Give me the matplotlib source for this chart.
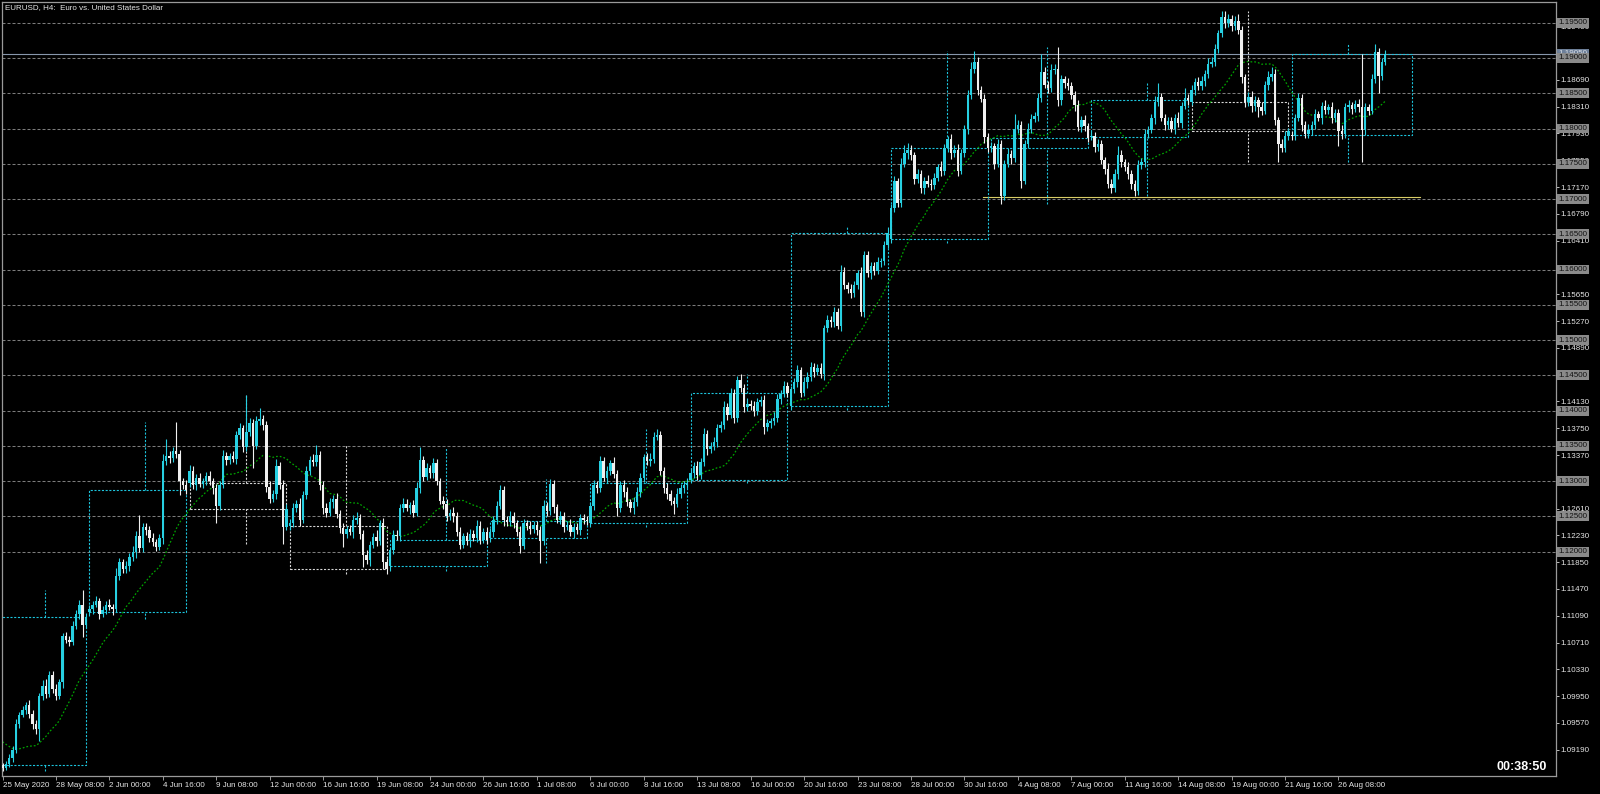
import numpy as np
import pandas as pd
import matplotlib
matplotlib.use("Agg")
import matplotlib.pyplot as plt
from matplotlib.transforms import blended_transform_factory

# ---------------- data ----------------
symbol_title = "EURUSD, H4:  Euro vs. United States Dollar"
timer_text = "00:38:50"
first_bar_time = "2020-05-25 16:00"

# weekly opens (first bar of each week opens here)
week_open = [1.0897, 1.1114, 1.1297, 1.1237, 1.1180, 1.1219, 1.1241,
             1.1302, 1.1407, 1.1643, 1.1772, 1.1788, 1.1838, 1.1791]
week_box_start = [-4, 26, 56, 86, 116, 146, 176, 206, 236, 266, 296, 326, 356, 386]
week_box_end = [25, 55, 85, 115, 145, 175, 205, 235, 265, 295, 325, 355, 385, 422]

# H4 closes, one list per week
closes_w01 = [1.0893, 1.0899, 1.0908, 1.0918, 1.0955, 1.0968, 1.0975, 1.0982, 1.0970, 1.0955,
              1.0948, 1.0995, 1.1010, 1.0998, 1.1025, 1.1005, 1.0995, 1.1015, 1.1080, 1.1075,
              1.1072, 1.1095, 1.1112, 1.1125, 1.1096, 1.1107]
closes_w02 = [1.1118, 1.1125, 1.1130, 1.1112, 1.1117, 1.1125, 1.1122, 1.1118, 1.1165, 1.1185,
              1.1175, 1.1180, 1.1192, 1.1200, 1.1222, 1.1205, 1.1235, 1.1230, 1.1220, 1.1213,
              1.1207, 1.1219, 1.1328, 1.1335, 1.1333, 1.1342, 1.1338, 1.1300, 1.1295, 1.1287]
closes_w03 = [1.1315, 1.1295, 1.1305, 1.1296, 1.1300, 1.1307, 1.1300, 1.1290, 1.1265, 1.1295,
              1.1335, 1.1330, 1.1335, 1.1332, 1.1365, 1.1375, 1.1348, 1.1370, 1.1383, 1.1350,
              1.1385, 1.1388, 1.1380, 1.1292, 1.1275, 1.1282, 1.1322, 1.1295, 1.1235, 1.1261]
closes_w04 = [1.1240, 1.1262, 1.1268, 1.1245, 1.1280, 1.1315, 1.1330, 1.1327, 1.1337, 1.1295,
              1.1262, 1.1255, 1.1270, 1.1275, 1.1253, 1.1233, 1.1225, 1.1232, 1.1228, 1.1245,
              1.1248, 1.1225, 1.1195, 1.1188, 1.1210, 1.1221, 1.1215, 1.1240, 1.1185, 1.1176]
closes_w05 = [1.1202, 1.1224, 1.1222, 1.1262, 1.1268, 1.1262, 1.1266, 1.1255, 1.1290, 1.1330,
              1.1306, 1.1318, 1.1312, 1.1325, 1.1300, 1.1272, 1.1268, 1.1250, 1.1255, 1.1250,
              1.1228, 1.1210, 1.1222, 1.1215, 1.1225, 1.1220, 1.1237, 1.1217, 1.1228, 1.1217]
closes_w06 = [1.1228, 1.1245, 1.1265, 1.1287, 1.1245, 1.1242, 1.1250, 1.1240, 1.1228, 1.1208,
              1.1240, 1.1236, 1.1232, 1.1238, 1.1230, 1.1215, 1.1265, 1.1258, 1.1296, 1.1263,
              1.1245, 1.1250, 1.1235, 1.1238, 1.1228, 1.1235, 1.1230, 1.1247, 1.1245, 1.1243]
closes_w07 = [1.1264, 1.1295, 1.1290, 1.1328, 1.1305, 1.1315, 1.1325, 1.1310, 1.1262, 1.1295,
              1.1285, 1.1270, 1.1262, 1.1270, 1.1285, 1.1305, 1.1334, 1.1328, 1.1332, 1.1363,
              1.1365, 1.1315, 1.1290, 1.1282, 1.1272, 1.1268, 1.1282, 1.1290, 1.1295, 1.1297]
closes_w08 = [1.1312, 1.1322, 1.1308, 1.1327, 1.1367, 1.1345, 1.1350, 1.1355, 1.1375, 1.1380,
              1.1405, 1.1394, 1.1425, 1.1390, 1.1443, 1.1432, 1.1405, 1.1410, 1.1406, 1.1400,
              1.1412, 1.1415, 1.1377, 1.1382, 1.1385, 1.1390, 1.1417, 1.1424, 1.1435, 1.1425]
closes_w09 = [1.1430, 1.1440, 1.1457, 1.1425, 1.1440, 1.1448, 1.1462, 1.1455, 1.1460, 1.1452,
              1.1517, 1.1528, 1.1525, 1.1540, 1.1520, 1.1597, 1.1578, 1.1572, 1.1567, 1.1578,
              1.1595, 1.1540, 1.1620, 1.1595, 1.1605, 1.1598, 1.1610, 1.1612, 1.1635, 1.1652]
closes_w10 = [1.1687, 1.1725, 1.1695, 1.1750, 1.1765, 1.1770, 1.1762, 1.1728, 1.1735, 1.1715,
              1.1726, 1.1722, 1.1720, 1.1730, 1.1745, 1.1740, 1.1772, 1.1785, 1.1765, 1.1770,
              1.1740, 1.1765, 1.1800, 1.1847, 1.1885, 1.1895, 1.1855, 1.1842, 1.1788, 1.1772]
closes_w11 = [1.1775, 1.1750, 1.1778, 1.1705, 1.1750, 1.1764, 1.1758, 1.1800, 1.1805, 1.1726,
              1.1778, 1.1800, 1.1814, 1.1818, 1.1843, 1.1880, 1.1862, 1.1858, 1.1883, 1.1885,
              1.1840, 1.1870, 1.1865, 1.1860, 1.1848, 1.1833, 1.1802, 1.1812, 1.1803, 1.1786]
closes_w12 = [1.1790, 1.1774, 1.1778, 1.1755, 1.1743, 1.1722, 1.1715, 1.1735, 1.1763, 1.1752,
              1.1745, 1.1735, 1.1722, 1.1712, 1.1748, 1.1752, 1.1792, 1.1798, 1.1815, 1.1838,
              1.1844, 1.1815, 1.1805, 1.1810, 1.1800, 1.1815, 1.1808, 1.1832, 1.1843, 1.1840]
closes_w13 = [1.1855, 1.1866, 1.1860, 1.1868, 1.1878, 1.1892, 1.1895, 1.1913, 1.1935, 1.1958,
              1.1950, 1.1955, 1.1945, 1.1952, 1.1940, 1.1873, 1.1838, 1.1845, 1.1832, 1.1840,
              1.1830, 1.1825, 1.1862, 1.1873, 1.1878, 1.1812, 1.1778, 1.1772, 1.1790, 1.1796]
closes_w14 = [1.1790, 1.1815, 1.1843, 1.1805, 1.1792, 1.1798, 1.1805, 1.1820, 1.1815, 1.1832,
              1.1826, 1.1830, 1.1815, 1.1822, 1.1797, 1.1792, 1.1830, 1.1833, 1.1828, 1.1835,
              1.1830, 1.1798, 1.1830, 1.1825, 1.1870, 1.1908, 1.1875, 1.1895, 1.1905]

# upper / lower wick lengths beyond the body, in pips
hi_w01 = [3,4,5,6,8,4,6,5,7,5, 6,4,8,9,5,6,7,5,4,6, 5,7,5,6,20,6]
lo_w01 = [4,3,5,6,4,5,3,5,6,7, 6,16,5,6,4,5,6,4,9,5, 6,4,5,7,17,5]
hi_w02 = [6,5,7,4,6,5,8,4,12,6, 5,7,6,8,7,30,6,5,7,6, 5,6,10,25,8,7,42,6,5,7]
lo_w02 = [5,6,4,7,5,6,5,8,4,5, 6,5,7,5,9,6,5,6,7,5, 6,5,8,5,7,6,5,20,6,5]
hi_w03 = [8,6,5,7,5,6,8,5,6,5, 9,6,5,7,6,8,5,52,6,5, 7,15,6,5,8,6,9,5,7,6]
lo_w03 = [5,6,7,5,6,5,6,8,25,6, 5,7,6,5,8,6,7,5,6,32, 5,6,7,8,6,5,7,6,24,5]
hi_w04 = [6,7,5,8,6,7,5,9,14,6, 5,7,6,5,8,6,7,5,6,7, 8,5,6,7,5,6,9,5,8,6]
lo_w04 = [7,5,6,8,5,6,7,5,6,7, 9,6,5,8,6,7,19,6,5,8, 6,7,17,6,8,5,7,6,10,8]
hi_w05 = [5,6,7,5,8,6,5,7,9,19, 6,7,5,8,6,5,7,6,5,8, 6,7,5,6,7,5,8,6,5,7]
lo_w05 = [8,6,5,7,6,5,8,6,5,7, 6,5,7,8,6,5,7,6,5,8, 6,7,5,6,8,5,7,6,5,6]
hi_w06 = [6,5,7,8,6,5,7,6,5,8, 6,5,7,6,5,7,8,6,7,6, 5,7,6,5,8,6,5,7,6,5]
lo_w06 = [5,7,6,5,8,6,5,7,6,10, 5,6,7,5,6,31,5,7,6,8, 5,6,7,5,6,8,5,7,6,5]
hi_w07 = [6,7,5,8,6,7,5,9,6,5, 7,6,5,8,6,7,5,6,8,7, 9,6,5,7,6,5,8,6,5,7]
lo_w07 = [6,5,7,6,5,8,6,5,12,6, 7,5,6,8,5,7,6,5,6,7, 5,6,7,8,6,14,5,6,7,5]
hi_w08 = [6,5,7,6,8,6,5,7,6,5, 8,6,7,5,6,9,6,8,5,7, 6,5,7,6,5,8,6,5,7,6]
lo_w08 = [5,7,6,5,6,8,5,6,7,5, 6,7,5,8,6,5,7,6,5,8, 6,5,10,6,7,5,6,8,5,6]
hi_w09 = [5,6,7,5,8,6,7,5,6,7, 5,8,6,7,5,9,6,5,7,6, 5,8,6,7,5,6,8,5,6,8]
lo_w09 = [6,5,7,6,5,8,6,7,5,6, 8,5,7,6,5,7,6,5,8,6, 5,6,7,5,8,6,5,7,6,5]
hi_w10 = [6,7,5,8,11,9,6,5,7,6, 5,8,6,7,5,9,6,5,7,6, 8,6,5,7,9,15,6,5,7,6]
lo_w10 = [6,5,7,6,5,8,6,7,5,6, 8,5,7,6,5,7,6,5,8,6, 7,5,6,8,5,6,7,5,8,6]
hi_w11 = [6,5,7,6,5,8,6,20,7,6, 5,8,6,5,8,25,7,5,8,6, 31,6,5,7,6,5,8,6,7,5]
lo_w11 = [6,7,5,12,6,5,8,6,7,11, 5,6,7,5,8,6,5,7,6,5, 8,6,7,5,6,8,5,7,6,5]
hi_w12 = [6,5,7,6,5,8,6,7,12,6, 5,7,6,5,8,6,7,5,6,8, 20,6,5,7,6,5,8,6,15,6]
lo_w12 = [5,7,6,5,8,6,7,5,6,7, 5,6,8,7,6,5,7,6,5,8, 6,5,7,6,5,8,6,7,5,6]
hi_w13 = [6,5,7,6,5,8,6,7,5,8, 9,8,6,7,10,6,5,7,8,6, 5,7,6,8,9,6,5,7,6,5]
lo_w13 = [5,7,6,5,8,6,5,7,6,5, 8,6,7,5,6,8,7,6,9,7, 13,6,5,8,6,7,26,6,5,6]
hi_w14 = [6,5,7,6,5,8,6,7,5,6, 8,5,7,6,5,8,6,7,5,6, 7,75,6,5,8,12,6,5,7]
lo_w14 = [6,7,5,8,6,5,7,6,5,8, 6,5,7,6,22,7,5,6,8,5, 6,46,7,6,5,6,25,6,5]

# closes before the first visible bar (warm-up of the 20-period MA)
prior_closes = [1.0968, 1.0972, 1.0975, 1.0970, 1.0962, 1.0955, 1.0948, 1.0952, 1.0945, 1.0940,
                1.0925, 1.0912, 1.0905, 1.0902, 1.0898, 1.0900, 1.0895, 1.0893, 1.0897]
ma_period = 20

level_lines = [1.120, 1.125, 1.130, 1.135, 1.140, 1.145, 1.150, 1.155,
               1.160, 1.165, 1.170, 1.175, 1.180, 1.185, 1.190, 1.195]
price_ticks = [1.09190, 1.09570, 1.09950, 1.10330, 1.10710, 1.11090, 1.11470, 1.11850,
               1.12230, 1.12610, 1.12990, 1.13370, 1.13750, 1.14130, 1.14510, 1.14890,
               1.15270, 1.15650, 1.16030, 1.16410, 1.16790, 1.17170, 1.17550, 1.17930,
               1.18310, 1.18690, 1.19070, 1.19450]
support_level = 1.1703
support_from, support_to = 293.6, 424.4
label_every = 16

# ---------------- build OHLC ----------------
closes = np.array(sum([closes_w01, closes_w02, closes_w03, closes_w04, closes_w05, closes_w06,
                       closes_w07, closes_w08, closes_w09, closes_w10, closes_w11, closes_w12,
                       closes_w13, closes_w14], []))
hi_ext = np.array(sum([hi_w01, hi_w02, hi_w03, hi_w04, hi_w05, hi_w06, hi_w07, hi_w08,
                       hi_w09, hi_w10, hi_w11, hi_w12, hi_w13, hi_w14], [])) * 1e-4
lo_ext = np.array(sum([lo_w01, lo_w02, lo_w03, lo_w04, lo_w05, lo_w06, lo_w07, lo_w08,
                       lo_w09, lo_w10, lo_w11, lo_w12, lo_w13, lo_w14], [])) * 1e-4
n = len(closes)
x = np.arange(n)
opens = np.r_[week_open[0], closes[:-1]]
for w, s in enumerate(week_box_start):
    opens[max(s, 0)] = week_open[w]
body_hi = np.maximum(opens, closes)
body_lo = np.minimum(opens, closes)
highs = body_hi + hi_ext
lows = body_lo - lo_ext
bull = closes >= opens

ma_src = pd.Series(np.r_[prior_closes, closes])
sma = ma_src.rolling(ma_period).mean().to_numpy()[-n:]

# timestamps (H4 bars, weekdays only)
times = [t for t in pd.date_range(first_bar_time, periods=n * 2, freq="4h") if t.weekday() < 5][:n]

# ---------------- figure ----------------
W, H = 1600, 794
FONT = "Liberation Sans"
BULL = "#27d0e2"
BEAR = "#f0f0f0"
BOX_BULL = "#1cc4dc"
BOX_BEAR = "#d6d6d6"

fig = plt.figure(figsize=(W / 100, H / 100), dpi=100, facecolor="black")
L, R, T, B = 2, 1556, 2, 776
ax = fig.add_axes([L / W, 1 - B / H, (R - L) / W, (B - T) / H], facecolor="black")
ax.set_xlim(-0.15, 465.12)
ax.set_ylim(1.08818, 1.19794)

# horizontal level lines
for lv in level_lines:
    ax.axhline(lv, color="#7c7c7c", lw=0.75, ls=(0, (2.9, 1.9)), zorder=1)

# bid line
ax.axhline(closes[-1], color="#8796ab", lw=0.8, zorder=1.5)

# support line
ax.plot([support_from, support_to], [support_level, support_level],
        color="#d9cc66", lw=0.8, zorder=2)

# weekly body boxes with wick ticks
for w in range(len(week_open)):
    s, e = week_box_start[w], week_box_end[w]
    b0, b1 = max(s, 0), min(e, n - 1)
    o = week_open[w]
    c = closes[b1]
    h = highs[b0:b1 + 1].max()
    l = lows[b0:b1 + 1].min()
    col = BOX_BULL if c >= o else BOX_BEAR
    top, bot = max(o, c), min(o, c)
    ls = (0, (1.9, 1.45))
    ax.plot([s, e, e, s, s], [bot, bot, top, top, bot], color=col, lw=0.8, ls=ls, zorder=2)
    xm = s + 16.8
    ax.plot([xm, xm], [top, h], color=col, lw=0.8, ls=ls, zorder=2)
    ax.plot([xm, xm], [l, bot], color=col, lw=0.8, ls=ls, zorder=2)

# moving average
ax.plot(x, sma, color="#00a400", lw=0.9, ls=(0, (1.4, 1.6)), zorder=2.5)

# candles
cols = np.where(bull, BULL, BEAR)
ax.vlines(x, lows, highs, colors=cols, lw=0.8, zorder=3)
heights = np.maximum(body_hi - body_lo, 0.00006)
ax.bar(x, heights, bottom=body_lo, width=0.74, color=cols, linewidth=0, zorder=4)

# spines
for sp in ax.spines.values():
    sp.set_color("#9a9a9a")
    sp.set_linewidth(0.9)

# x axis labels
tick_idx = list(range(0, n, label_every))
tick_lbl = []
for k, i in enumerate(tick_idx):
    t = times[i]
    if k == 0:
        tick_lbl.append(f"{t.day} {t.strftime('%b %Y')}")
    else:
        tick_lbl.append(f"{t.day} {t.strftime('%b %H:%M')}")
ax.set_xticks(tick_idx)
ax.set_xticklabels(tick_lbl, ha="left", fontsize=5.8, color="#e6e6e6", family=FONT)
ax.tick_params(axis="x", direction="out", length=3.0, width=0.7, color="#9a9a9a", pad=1.2)

# y axis on the right
ax.yaxis.tick_right()
ax.set_yticks(price_ticks)
ax.set_yticklabels([f"{v:.5f}" for v in price_ticks], fontsize=5.8, color="#e6e6e6", family=FONT)
ax.tick_params(axis="y", direction="out", length=2.4, width=0.7, color="#bdbdbd", pad=0.6)
ax.set_ylim(1.08818, 1.19794)

# price label boxes on the axis
tr = blended_transform_factory(ax.transAxes, ax.transData)
x_lab = 1 + 2.5 / (R - L)
ax.text(x_lab, closes[-1] + 0.00012, f"{closes[-1]:.5f}", transform=tr, ha="left", va="center",
        fontsize=5.8, color="#d8dde6", family=FONT, clip_on=False, zorder=19,
        bbox=dict(boxstyle="square,pad=0.18", fc="#6d7f98", ec="none"))
for lv in level_lines:
    ax.text(x_lab, lv, f"{lv:.5f}", transform=tr, ha="left", va="center",
            fontsize=5.8, color="#111111", family=FONT, clip_on=False, zorder=20,
            bbox=dict(boxstyle="square,pad=0.18", fc="#8a8a8a", ec="none"))

# title & timer
fig.text(5 / W, 1 - 8 / H, symbol_title, ha="left", va="center", fontsize=5.8,
         color="#e6e6e6", family=FONT)
fig.text(1547 / W, 1 - 767 / H, timer_text, ha="right", va="center", fontsize=9,
         fontweight="bold", color="white", family=FONT)

fig.savefig("out.png", dpi=100, facecolor="black")
